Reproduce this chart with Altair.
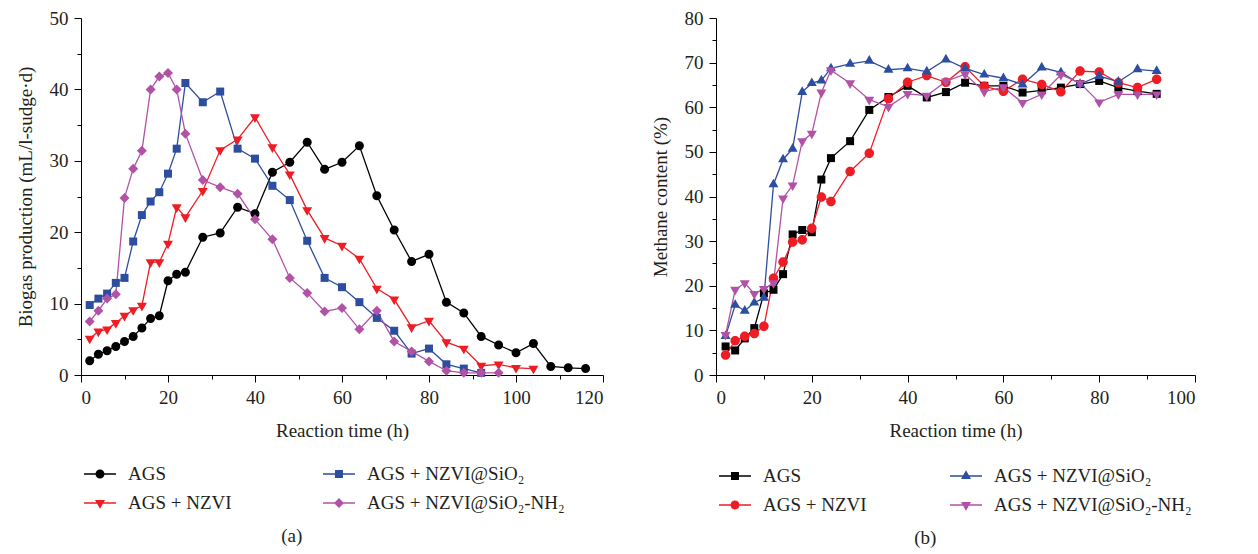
import altair as alt
import pandas as pd

FONT = "Liberation Serif"
TXT = "#231f20"
FS = 19

SERIES = ["AGS", "AGS + NZVI", "AGS + NZVI@SiO₂", "AGS + NZVI@SiO₂-NH₂"]
COLORS = ["#000000", "#ee1d25", "#2d4d9f", "#b152a6"]

# ---------------- Panel (a): biogas production ----------------
t_a_ags = [2, 4, 6, 8, 10, 12, 14, 16, 18, 20, 22, 24, 28, 32, 36, 40, 44, 48, 52, 56, 60,
           64, 68, 72, 76, 80, 84, 88, 92, 96, 100, 104, 108, 112, 116]
v_a_ags = [2.0, 2.9, 3.4, 4.0, 4.7, 5.4, 6.6, 7.9, 8.3, 13.2, 14.1, 14.4, 19.3, 19.9, 23.5,
           22.6, 28.4, 29.8, 32.6, 28.8, 29.8, 32.1, 25.1, 20.3, 15.9, 16.9, 10.2, 8.7, 5.4,
           4.2, 3.1, 4.4, 1.2, 1.0, 0.9]
t_a_nzvi = [2, 4, 6, 8, 10, 12, 14, 16, 18, 20, 22, 24, 28, 32, 36, 40, 44, 48, 52, 56, 60,
            64, 68, 72, 76, 80, 84, 88, 92, 96, 100, 104]
v_a_nzvi = [5.1, 6.1, 6.4, 7.3, 8.3, 9.1, 9.7, 15.8, 15.8, 18.4, 23.5, 22.1, 25.8, 31.5, 33.0,
            36.1, 31.9, 28.1, 23.1, 19.2, 18.1, 16.3, 12.1, 10.6, 6.7, 7.6, 4.6, 3.7, 1.3,
            1.5, 1.0, 0.9]
t_a_sio2 = [2, 4, 6, 8, 10, 12, 14, 16, 18, 20, 22, 24, 28, 32, 36, 40, 44, 48, 52, 56, 60,
            64, 68, 72, 76, 80, 84, 88, 92]
v_a_sio2 = [9.8, 10.7, 11.4, 12.9, 13.6, 18.7, 22.4, 24.3, 25.6, 28.2, 31.7, 40.9, 38.2, 39.7,
            31.7, 30.3, 26.5, 24.5, 18.8, 13.6, 12.3, 10.2, 8.0, 6.2, 3.0, 3.7, 1.5, 0.9, 0.3]
t_a_nh2 = [2, 4, 6, 8, 10, 12, 14, 16, 18, 20, 22, 24, 28, 32, 36, 40, 44, 48, 52, 56, 60,
           64, 68, 72, 76, 80, 84, 88, 92, 96]
v_a_nh2 = [7.5, 9.0, 10.7, 11.3, 24.8, 28.9, 31.4, 40.0, 41.8, 42.3, 40.0, 33.8, 27.3, 26.3,
           25.4, 21.8, 19.0, 13.6, 11.5, 8.9, 9.4, 6.4, 9.0, 4.7, 3.3, 1.9, 0.6, 0.3, 0.3, 0.3]

# ---------------- Panel (b): methane content ----------------
t_b = [2, 4, 6, 8, 10, 12, 14, 16, 18, 20, 22, 24, 28, 32, 36, 40, 44, 48, 52, 56, 60, 64,
       68, 72, 76, 80, 84, 88, 92]
v_b_ags = [6.4, 5.5, 8.2, 10.5, 18.3, 19.1, 22.6, 31.5, 32.5, 32.0, 43.8, 48.6, 52.4, 59.4,
           62.3, 64.8, 62.2, 63.4, 65.5, 64.8, 64.8, 63.3, 63.8, 64.4, 65.2, 65.9, 64.4, 63.6,
           63.0]
v_b_nzvi = [4.5, 7.7, 8.7, 9.3, 10.9, 21.7, 25.3, 29.8, 30.3, 32.9, 39.9, 38.9, 45.6, 49.7,
            61.9, 65.6, 67.1, 65.6, 69.1, 64.7, 63.6, 66.3, 65.1, 63.5, 68.1, 67.9, 65.5, 64.4,
            66.3]
v_b_sio2 = [8.7, 15.7, 14.4, 16.2, 17.3, 42.7, 48.3, 50.7, 63.4, 65.4, 66.0, 68.7, 69.7, 70.4,
            68.4, 68.7, 68.0, 70.7, 68.7, 67.3, 66.5, 65.1, 68.9, 67.8, 65.2, 67.0, 65.7, 68.5,
            68.1]
v_b_nh2 = [9.0, 19.1, 20.6, 18.2, 19.3, 20.6, 39.6, 42.5, 52.4, 54.1, 63.3, 68.3, 65.4, 61.7,
           60.1, 63.0, 62.6, 65.8, 67.4, 63.5, 64.5, 61.0, 62.9, 67.3, 65.4, 61.1, 62.9, 62.9,
           62.9]

# axis ticks
xa_major = [0, 20, 40, 60, 80, 100, 120]
xa_minor = [10, 30, 50, 70, 90, 110]
ya_major = [0, 10, 20, 30, 40, 50]
ya_minor = [5, 15, 25, 35, 45]
xb_major = [0, 20, 40, 60, 80, 100]
xb_minor = [10, 30, 50, 70, 90]
yb_major = [0, 10, 20, 30, 40, 50, 60, 70, 80]
yb_minor = [5, 15, 25, 35, 45, 55, 65, 75]

# marker shapes (unit box -1..1 maps to sqrt(size) px)
CIRC = "M0.9,0A0.9,0.9,0,1,1,-0.9,0A0.9,0.9,0,1,1,0.9,0Z"
CIRC_B = "M0.95,0A0.95,0.95,0,1,1,-0.95,0A0.95,0.95,0,1,1,0.95,0Z"
TRI_DOWN = "M-1,-0.58L1,-0.58L0,1.15Z"
TRI_UP = "M1,0.58L-1,0.58L0,-1.15Z"
SQUARE = "M-0.8,-0.8L0.8,-0.8L0.8,0.8L-0.8,0.8Z"
DIAMOND = "M0,-1L1,0L0,1L-1,0Z"

# legend symbols: line through marker (unit = 10 px)
LINE = "M-1.6,-0.07L-0.2,-0.07L-0.2,0.07L-1.6,0.07Z M0.2,-0.07L1.6,-0.07L1.6,0.07L0.2,0.07Z "
L_CIRC = LINE + "M0.45,0A0.45,0.45,0,1,1,-0.45,0A0.45,0.45,0,1,1,0.45,0Z"
L_TRI_DOWN = LINE + "M-0.5,-0.29L0.5,-0.29L0,0.58Z"
L_TRI_UP = LINE + "M0.5,0.29L-0.5,0.29L0,-0.58Z"
L_SQUARE = LINE + "M-0.4,-0.4L0.4,-0.4L0.4,0.4L-0.4,0.4Z"
L_DIAMOND = LINE + "M0,-0.5L0.5,0L0,0.5L-0.5,0Z"


def long_df(times, values):
    rows = []
    for name, ts, vs in zip(SERIES, times, values):
        for t, v in zip(ts, vs):
            rows.append({"series": name, "t": t, "v": v})
    return pd.DataFrame(rows)


df_a = long_df([t_a_ags, t_a_nzvi, t_a_sio2, t_a_nh2], [v_a_ags, v_a_nzvi, v_a_sio2, v_a_nh2])
df_b = long_df([t_b, t_b, t_b, t_b], [v_b_ags, v_b_nzvi, v_b_sio2, v_b_nh2])


def panel(df, ytitle, xmax, ymax, xmaj, xmin, ymaj, ymin, w, h, marks, leg_marks,
          leg_x, leg_y, col_pad, caption, cap_dx):
    xs = alt.Scale(domain=[0, xmax], nice=False)
    ys = alt.Scale(domain=[0, ymax], nice=False)
    cscale = alt.Scale(domain=SERIES, range=COLORS)
    base = alt.Chart(df)
    lines = base.mark_line(strokeWidth=1.3).encode(
        x=alt.X("t:Q", scale=xs, axis=alt.Axis(values=xmaj, title="Reaction time (h)",
                                                orient="bottom", tickSize=7, labelPadding=6,
                                                titlePadding=14, format="d")),
        y=alt.Y("v:Q", scale=ys, axis=alt.Axis(values=ymaj, title=ytitle, orient="left",
                                                tickSize=7, labelPadding=6, titlePadding=14,
                                                format="d")),
        color=alt.Color("series:N", scale=cscale, legend=None),
    )
    pts = base.mark_point(filled=True, opacity=1, size=100).encode(
        x=alt.X("t:Q", scale=xs, axis=alt.Axis(values=xmin, title=None, orient="bottom",
                                                labels=False, domain=False, tickSize=4)),
        y=alt.Y("v:Q", scale=ys, axis=alt.Axis(values=ymin, title=None, orient="left",
                                                labels=False, domain=False, tickSize=4)),
        color=alt.Color("series:N", scale=cscale, legend=None),
        shape=alt.Shape("series:N", scale=alt.Scale(domain=SERIES, range=marks), legend=None),
    )
    leg = alt.Legend(orient="none", legendX=leg_x, legendY=leg_y, columns=2, title=None,
                     symbolSize=400, symbolStrokeWidth=0, symbolOpacity=1,
                     labelFont=FONT, labelFontSize=FS, labelColor=TXT, labelOffset=18,
                     labelLimit=0, columnPadding=col_pad, rowPadding=9, padding=0)
    legend_layer = base.transform_filter("false").mark_point(filled=True, opacity=1).encode(
        x=alt.X("t:Q", scale=xs, axis=None),
        y=alt.Y("v:Q", scale=ys, axis=None),
        color=alt.Color("series:N", scale=alt.Scale(domain=SERIES, range=COLORS), legend=leg),
        shape=alt.Shape("series:N", scale=alt.Scale(domain=SERIES, range=leg_marks),
                        legend=leg),
    )
    return alt.layer(lines, pts, legend_layer).resolve_scale(
        color="independent", shape="independent"
    ).resolve_axis(x="independent", y="independent").properties(
        width=w, height=h,
        title=alt.TitleParams(caption, orient="bottom", anchor="middle", frame="bounds",
                              font=FONT, fontSize=FS, fontWeight="normal", color=TXT,
                              offset=14, dx=cap_dx),
    )


pa = panel(df_a, "Biogas production (mL/l-sudge·d)", 120, 50, xa_major, xa_minor,
           ya_major, ya_minor, 522, 357,
           [CIRC, TRI_DOWN, SQUARE, DIAMOND],
           [L_CIRC, L_TRI_DOWN, L_SQUARE, L_DIAMOND],
           9, 446, 91, "(a)", -18)
pb = panel(df_b, "Methane content (%)", 100, 80, xb_major, xb_minor,
           yb_major, yb_minor, 479, 357,
           [SQUARE, CIRC_B, TRI_UP, TRI_DOWN],
           [L_SQUARE, L_CIRC, L_TRI_UP, L_TRI_DOWN],
           9, 448, 83, "(b)", 2)

chart = alt.hconcat(pa, pb, spacing=47).properties(
    padding={"left": 16, "top": 9, "right": 5, "bottom": 2},
    background="white",
).configure_view(stroke=None).configure_axis(
    labelFont=FONT, labelFontSize=FS, labelColor=TXT,
    titleFont=FONT, titleFontSize=FS, titleFontWeight="normal", titleColor=TXT,
    domainColor="#000000", tickColor="#000000", domainWidth=1, tickWidth=1, grid=False,
)

chart.save("out.html", embed_options={"renderer": "svg", "actions": False})
